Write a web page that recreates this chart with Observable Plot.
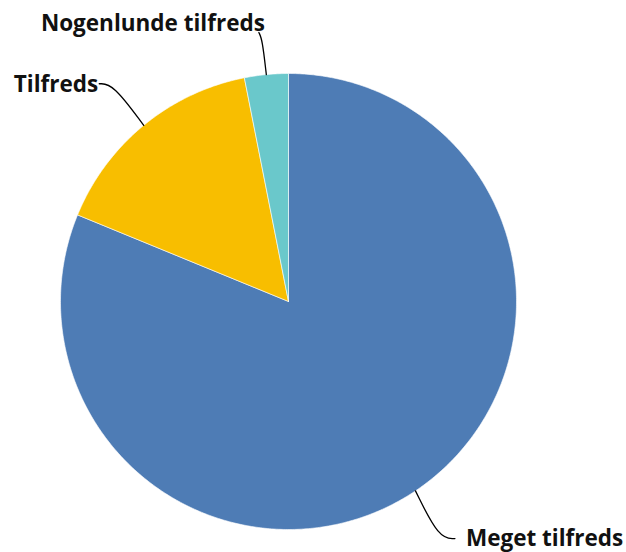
<!DOCTYPE html>
<html>
<head>
<meta charset="utf-8">
<script src="https://cdn.jsdelivr.net/npm/d3@7"></script>
<script src="https://cdn.jsdelivr.net/npm/@observablehq/plot@0.6"></script>
<style>
  html, body { margin: 0; padding: 0; background: #fff; }
  #chart svg { display: block; }
</style>
</head>
<body>
<div id="chart"></div>
<script>
// ---- data ----
const categories = ["Meget tilfreds", "Tilfreds", "Nogenlunde tilfreds"];
const values = [81.2, 15.7, 3.1];
const colors = ["#4E7CB5", "#F8BE00", "#6AC8CB"];

// ---- layout ----
const W = 626, H = 552;
const cx = 288, cy = 301, R = 228;
// label anchor (in radius units relative to center) and elbow for leader lines
const labelLayout = [
  {elbow: [0.66, 1.04], end: [0.73, 1.04], anchor: "start", dx: 11, dy: 0},
  {elbow: [-0.77, -0.955], end: [-0.83, -0.955], anchor: "end", dx: -1, dy: 1},
  {elbow: [-0.115, -1.15], end: [-0.13, -1.18], anchor: "end", dx: 6, dy: -9}
];

const pie = d3.pie().sort(null).value(d => d.value)
  .startAngle(0).endAngle(2 * Math.PI);
const data = categories.map((c, i) => ({category: c, value: values[i], color: colors[i]}));
const arcs = pie(data);

// polygon vertices for each slice (unit radius), y down
const slicePts = [];
arcs.forEach(a => {
  const n = Math.max(2, Math.ceil((a.endAngle - a.startAngle) / 0.01));
  slicePts.push({cat: a.data.category, x: 0, y: 0});
  for (let k = 0; k <= n; k++) {
    const t = a.startAngle + (a.endAngle - a.startAngle) * k / n;
    slicePts.push({cat: a.data.category, x: Math.sin(t), y: -Math.cos(t)});
  }
  slicePts.push({cat: a.data.category, x: 0, y: 0});
});

// leader lines
const leaderPts = [];
const labels = [];
arcs.forEach((a, i) => {
  const m = (a.startAngle + a.endAngle) / 2;
  const L = labelLayout[i];
  leaderPts.push({cat: a.data.category, x: Math.sin(m), y: -Math.cos(m)});
  leaderPts.push({cat: a.data.category, x: L.elbow[0], y: L.elbow[1]});
  leaderPts.push({cat: a.data.category, x: L.end[0], y: L.end[1]});
  labels.push({text: a.data.category, x: L.end[0], y: L.end[1], anchor: L.anchor, dx: L.dx, dy: L.dy});
});

const chart = Plot.plot({
  width: W,
  height: H,
  margin: 0,
  style: {background: "#fff", fontFamily: "'Open Sans', sans-serif"},
  x: {domain: [-cx / R, (W - cx) / R], range: [0, W], axis: null},
  y: {domain: [-cy / R, (H - cy) / R], range: [0, H], axis: null},
  color: {domain: categories, range: colors},
  marks: [
    Plot.line(slicePts, {x: "x", y: "y", z: "cat", fill: "cat", stroke: "#fff", strokeWidth: 0.6, curve: "linear"}),
    Plot.line(leaderPts, {x: "x", y: "y", z: "cat", stroke: "#000", strokeWidth: 1.3, curve: "basis"}),
    ...labels.map(l => Plot.text([l], {
      x: "x", y: "y", text: "text", textAnchor: l.anchor, dx: l.dx, dy: l.dy,
      fontSize: 22.5, fontWeight: "bold", fill: "#111"
    }))
  ]
});
document.getElementById("chart").appendChild(chart);
</script>
</body>
</html>
